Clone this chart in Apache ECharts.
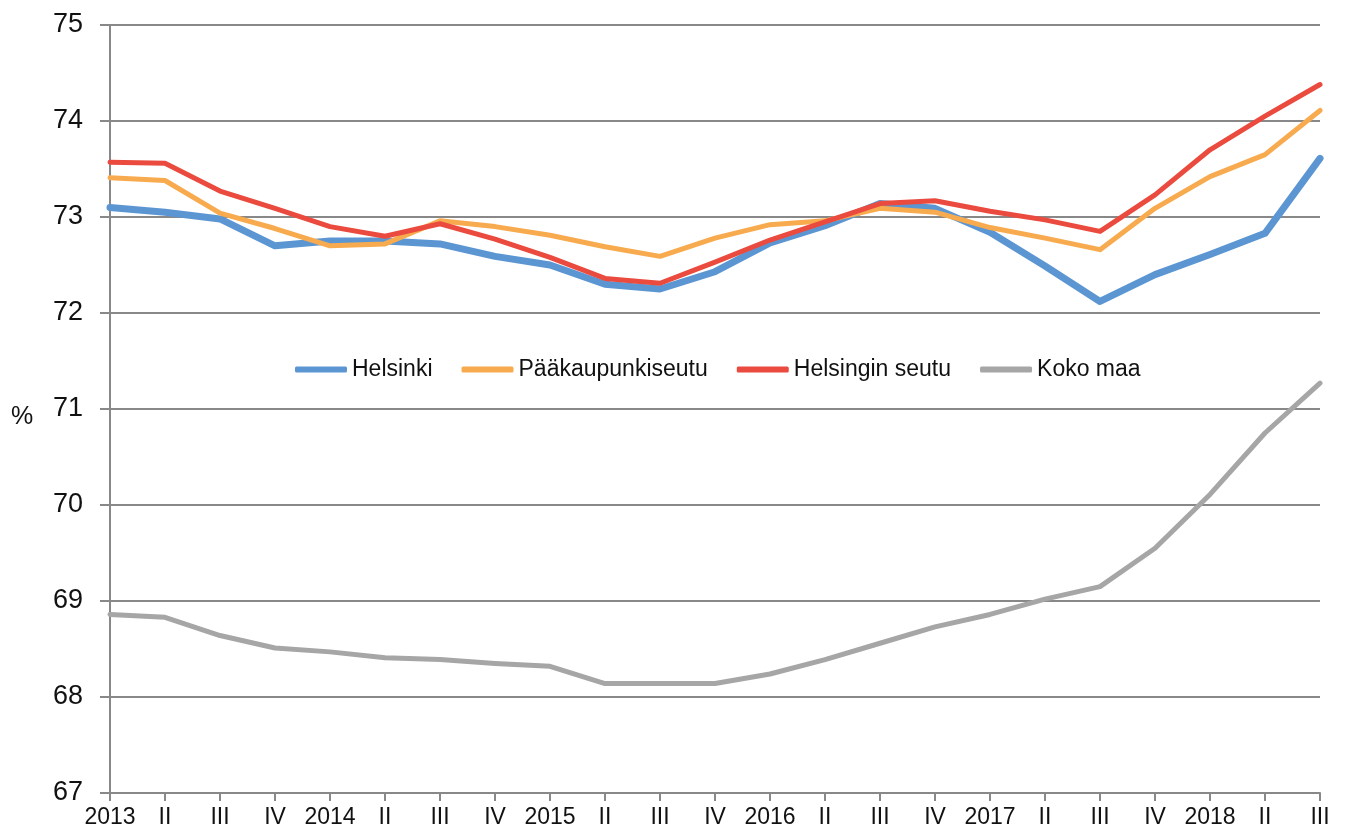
<!DOCTYPE html>
<html>
<head>
	<meta charset="utf-8">
	<title>Työllisyysaste</title>
	<script src="https://cdn.jsdelivr.net/npm/echarts@6/dist/echarts.min.js"></script>
	<style type="text/css">
		html, body { margin: 0; padding: 0; background: #fff; }
		#chart { width: 1346px; height: 831px; }
	</style>
</head>
<body>
<div id="chart"></div>
<script type="text/javascript">

	// x-akselin neljännekset
	var quarters = ['2013', 'II', 'III', 'IV', '2014', 'II', 'III', 'IV', '2015', 'II', 'III', 'IV',
		'2016', 'II', 'III', 'IV', '2017', 'II', 'III', 'IV', '2018', 'II', 'III'];

	var helsinki = [73.10, 73.05, 72.98, 72.70, 72.75, 72.75, 72.72, 72.59, 72.50, 72.30, 72.25, 72.43,
		72.73, 72.91, 73.14, 73.09, 72.84, 72.49, 72.12, 72.40, 72.61, 72.83, 73.61];
	var paakaupunkiseutu = [73.41, 73.38, 73.04, 72.88, 72.70, 72.72, 72.96, 72.90, 72.81, 72.69, 72.59, 72.78,
		72.92, 72.96, 73.09, 73.05, 72.89, 72.78, 72.66, 73.09, 73.42, 73.65, 74.11];
	var helsinginSeutu = [73.57, 73.56, 73.27, 73.09, 72.90, 72.80, 72.93, 72.77, 72.58, 72.36, 72.31, 72.53,
		72.76, 72.95, 73.14, 73.17, 73.06, 72.97, 72.85, 73.23, 73.70, 74.05, 74.38];
	var kokoMaa = [68.86, 68.83, 68.64, 68.51, 68.47, 68.41, 68.39, 68.35, 68.32, 68.14, 68.14, 68.14,
		68.24, 68.39, 68.56, 68.73, 68.86, 69.02, 69.15, 69.55, 70.11, 70.75, 71.27];

	var font = '"Liberation Sans", Arial, sans-serif';
	var axisColor = '#888';

	function lineSeries(name, data, color, width) {
		return {
			name: name,
			type: 'line',
			data: data,
			symbol: 'none',
			smooth: false,
			lineStyle: { color: color, width: width, cap: 'round', join: 'round' },
			itemStyle: { color: color }
		};
	}

	var myChart = echarts.init(document.getElementById('chart'));
	var option = {
		animation: false,
		backgroundColor: '#fff',
		grid: { left: 110, right: 26, top: 25, bottom: 38 },
		// y-akselin yksikkö
		graphic: [{
			type: 'text',
			left: 11,
			top: 405,
			style: { text: '%', fontFamily: font, fontSize: 25, fill: '#111' }
		}],
		legend: {
			left: 290,
			top: 353,
			icon: 'roundRect',
			itemWidth: 52,
			itemHeight: 6,
			itemGap: 29,
			textStyle: { fontFamily: font, fontSize: 23, color: '#111' },
			data: ['Helsinki', 'Pääkaupunkiseutu', 'Helsingin seutu', 'Koko maa']
		},
		xAxis: {
			type: 'category',
			boundaryGap: false,
			data: quarters,
			axisLine: { lineStyle: { color: axisColor, width: 2 } },
			axisTick: { show: true, length: 8, interval: 0, lineStyle: { color: axisColor, width: 2 } },
			axisLabel: { interval: 0, margin: 13, fontFamily: font, fontSize: 23, color: '#111' },
			splitLine: { show: false }
		},
		yAxis: {
			type: 'value',
			min: 67,
			max: 75,
			interval: 1,
			axisLine: { show: true, lineStyle: { color: axisColor, width: 2 } },
			axisTick: { show: true, length: 10, lineStyle: { color: axisColor, width: 2 } },
			axisLabel: { margin: 27, fontFamily: font, fontSize: 27, color: '#111' },
			splitLine: { show: true, lineStyle: { color: axisColor, width: 2 } }
		},
		series: [
			lineSeries('Helsinki', helsinki, '#5B96D3', 7),
			lineSeries('Pääkaupunkiseutu', paakaupunkiseutu, '#F8AA4E', 5),
			lineSeries('Helsingin seutu', helsinginSeutu, '#EA4B3E', 5),
			lineSeries('Koko maa', kokoMaa, '#A6A6A6', 5)
		]
	};
	myChart.setOption(option);

</script>
</body>
</html>
